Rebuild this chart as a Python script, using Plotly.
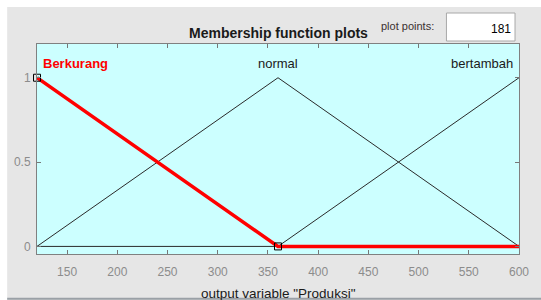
import plotly.graph_objects as go

# Data: membership function breakpoints (x) and membership values
x_points = [120, 360, 600]
berkurang = [1, 0, 0]
normal = [0, 1, 0]
bertambah = [0, 0, 1]
mf_names = ["Berkurang", "normal", "bertambah"]
x_ticks = [150, 200, 250, 300, 350, 400, 450, 500, 550, 600]
y_ticks = [0, 0.5, 1]
y_tick_text = ["0", "0.5", "1"]
marker_x = [120, 360]
marker_y = [1, 0]
plot_points = "181"

FONT = "Liberation Sans, Arial, sans-serif"
L, R, T, B = 37, 19, 44, 46
W, H = 541, 300
pw, ph = W - L - R, H - T - B

def px(xp):
    return (xp - L) / pw

def py(yp):
    return (H - B - yp) / ph

fig = go.Figure()
fig.add_trace(go.Scatter(x=x_points, y=normal, mode="lines",
                         line=dict(color="#2a2a2a", width=1), hoverinfo="skip"))
fig.add_trace(go.Scatter(x=x_points, y=bertambah, mode="lines",
                         line=dict(color="#2a2a2a", width=1), hoverinfo="skip"))
fig.add_trace(go.Scatter(x=x_points, y=berkurang, mode="lines",
                         line=dict(color="#ff0000", width=3.5), hoverinfo="skip"))
fig.add_trace(go.Scatter(x=marker_x, y=marker_y, mode="markers",
                         marker=dict(symbol="square-open", size=7,
                                     color="#000000", line=dict(width=1)),
                         hoverinfo="skip", cliponaxis=False))

shapes = [
    # white strips at top and left
    dict(type="rect", xref="paper", yref="paper", x0=px(-5), x1=px(W + 5),
         y0=py(7), y1=py(-5), fillcolor="white", line=dict(width=0), layer="below"),
    dict(type="rect", xref="paper", yref="paper", x0=px(-5), x1=px(7),
         y0=py(H + 5), y1=py(-5), fillcolor="white", line=dict(width=0), layer="below"),
    # bottom dark line
    dict(type="line", xref="paper", yref="paper", x0=px(7), x1=px(W + 5),
         y0=py(298.8), y1=py(298.8), line=dict(color="#9aa0a6", width=2)),
    # plot points box
    dict(type="rect", xref="paper", yref="paper", x0=px(449), x1=px(518),
         y0=py(41), y1=py(13), fillcolor="white",
         line=dict(color="#a8a8a8", width=1)),
]

annotations = [
    dict(text="<b>Membership function plots</b>", xref="paper", yref="paper",
         x=px(280), y=py(33), showarrow=False, xanchor="center", yanchor="middle",
         font=dict(family=FONT, size=14, color="#1a1a1a")),
    dict(text="plot points:", xref="paper", yref="paper",
         x=px(410), y=py(26), showarrow=False, xanchor="center", yanchor="middle",
         font=dict(family=FONT, size=11, color="#3a3030")),
    dict(text=plot_points, xref="paper", yref="paper",
         x=px(516), y=py(29), showarrow=False, xanchor="right", yanchor="middle",
         font=dict(family=FONT, size=12, color="#000000")),
    dict(text="<b>" + mf_names[0] + "</b>", x=120, y=1.083, xshift=4,
         showarrow=False, xanchor="left", yanchor="middle",
         font=dict(family=FONT, size=13, color="#ff0000")),
    dict(text=mf_names[1], x=360, y=1.083, showarrow=False,
         xanchor="center", yanchor="middle",
         font=dict(family=FONT, size=13, color="#1a1a1a")),
    dict(text=mf_names[2], x=600, y=1.083, xshift=-4, showarrow=False,
         xanchor="right", yanchor="middle",
         font=dict(family=FONT, size=13, color="#1a1a1a")),
    dict(text='output variable "Produksi"', xref="paper", yref="paper",
         x=px(280), y=py(293), showarrow=False, xanchor="center", yanchor="middle",
         font=dict(family=FONT, size=13.5, color="#1a1a1a")),
]

fig.update_layout(
    width=W, height=H, autosize=False,
    margin=dict(l=L, r=R, t=T, b=B, pad=0),
    paper_bgcolor="#e6e6e6", plot_bgcolor="#ccffff",
    showlegend=False, shapes=shapes, annotations=annotations,
    font=dict(family=FONT),
)
fig.update_xaxes(range=[120, 600], tickvals=x_ticks, ticks="inside", ticklen=4,
                 tickcolor="#777777", showline=True, linecolor="#808080",
                 linewidth=1, mirror="ticks", showgrid=False, zeroline=False,
                 tickfont=dict(family=FONT, size=12, color="#8c8c8c"),
                 ticklabelstandoff=7, fixedrange=True)
fig.update_yaxes(range=[-0.045, 1.2], tickvals=y_ticks, ticktext=y_tick_text,
                 ticks="inside", ticklen=4,
                 tickcolor="#777777", showline=True, linecolor="#808080",
                 linewidth=1, mirror="ticks", showgrid=False, zeroline=False,
                 tickfont=dict(family=FONT, size=12, color="#8c8c8c"),
                 ticklabelstandoff=3, fixedrange=True)

fig.write_html("out.html", config=dict(displayModeBar=False),
               post_script="document.body.style.margin='0px';document.body.style.overflow='hidden';")
